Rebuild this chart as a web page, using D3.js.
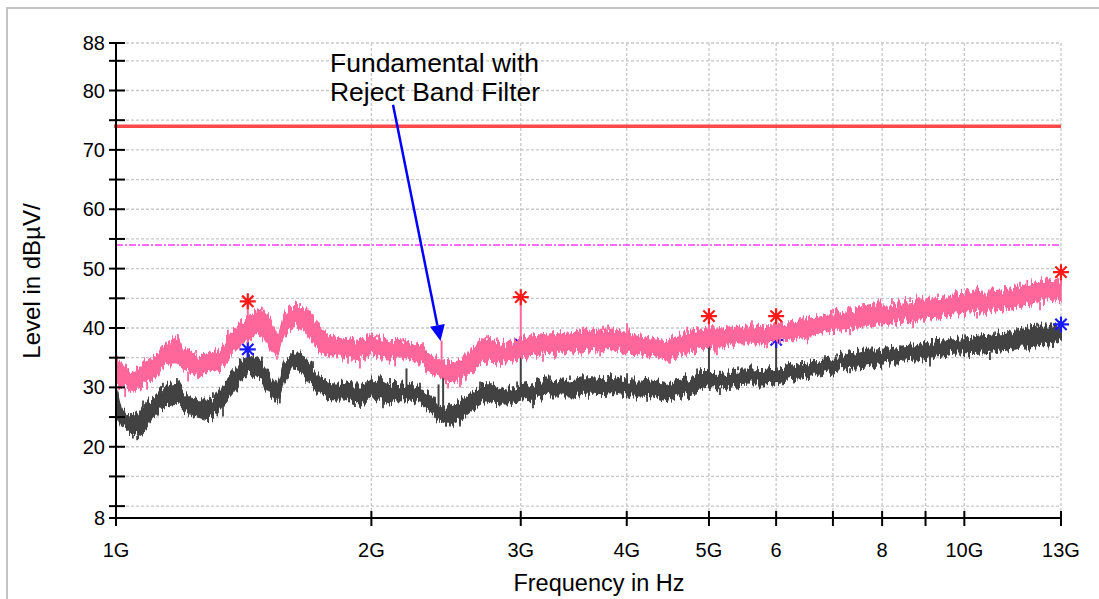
<!DOCTYPE html>
<html><head><meta charset="utf-8">
<script src="https://cdn.jsdelivr.net/npm/d3@7"></script>
<style>html,body{margin:0;padding:0;background:#fff;}svg{display:block;font-family:"Liberation Sans",Arial,sans-serif;}</style>
</head><body>
<svg id="c" width="1099" height="599"></svg>
<script>
// ---------- data ----------
const freqGHz = [1.000,1.015,1.03,1.045,1.06,1.08,1.10,1.12,1.14,1.16,1.18,1.20,1.22,1.25,1.28,1.31,1.34,1.37,1.40,1.43,
1.46,1.49,1.52,1.55,1.58,1.61,1.64,1.67,1.70,1.74,1.78,1.82,1.86,1.90,1.95,2.00,2.05,2.10,2.15,2.20,
2.25,2.30,2.35,2.40,2.45,2.50,2.55,2.60,2.66,2.72,2.78,2.85,2.92,3.00,3.08,3.16,3.25,3.35,3.45,3.55,
3.65,3.75,3.85,4.00,4.15,4.30,4.45,4.60,4.75,4.90,5.05,5.20,5.40,5.60,5.80,6.00,6.25,6.50,6.75,7.00,
7.30,7.60,7.90,8.20,8.50,8.80,9.10,9.40,9.70,10.0,10.4,10.8,11.2,11.6,12.0,12.4,12.8,13.0];
const peakHi = [35.2,34.0,33.0,32.2,32.8,34.0,35.0,35.8,37.0,37.8,38.4,36.4,36.0,35.6,35.4,35.8,37.2,39.4,40.8,41.8,
42.6,43.0,41.4,38.6,42.4,43.4,43.8,43.4,42.2,40.0,38.8,38.4,38.0,38.2,38.0,38.8,38.2,37.8,37.9,37.6,
37.2,36.8,35.6,34.6,34.0,34.0,34.4,35.6,37.2,38.4,38.0,37.6,37.4,38.4,38.6,38.8,39.0,39.0,39.2,39.6,
39.6,39.6,39.8,39.2,38.6,38.2,37.8,38.6,39.4,39.8,40.0,39.8,40.3,40.3,40.2,40.6,40.9,41.4,42.0,42.5,
42.9,43.5,44.0,44.0,44.2,44.6,45.0,45.3,45.7,45.8,46.3,46.4,46.6,46.9,47.4,47.8,48.0,47.8];
const peakLo = [30.5,30.0,29.8,29.2,29.6,30.6,31.5,32.4,33.4,34.0,34.0,33.0,32.6,32.4,32.3,32.9,34.0,35.6,37.0,38.0,
39.0,38.6,36.6,35.2,38.8,40.0,40.2,39.6,37.8,36.2,35.4,35.2,35.0,34.8,35.0,35.6,35.0,34.8,35.0,34.8,
34.4,33.6,32.6,32.0,30.8,30.6,31.2,32.0,33.4,34.4,34.6,34.4,34.2,35.0,35.2,35.6,35.8,35.8,36.0,36.2,
36.4,36.4,36.4,35.8,35.7,35.4,34.8,35.2,36.0,36.4,36.8,36.9,37.4,37.3,37.4,37.8,38.0,38.5,39.1,39.6,
39.8,40.2,40.6,40.9,41.0,41.3,41.7,42.0,42.4,42.5,42.7,43.0,43.3,43.6,44.1,44.5,44.8,44.8];
const avgHi = [30.5,26.5,25.4,25.6,25.4,27.0,28.0,29.0,30.2,30.7,30.8,29.2,28.2,27.9,27.8,28.4,30.6,32.2,34.0,35.6,
35.0,34.0,32.0,30.2,34.4,35.6,35.6,35.0,33.6,31.6,30.8,30.7,30.6,30.2,30.2,31.2,31.4,30.6,30.6,30.4,
30.0,29.6,28.6,26.8,26.6,27.0,27.6,28.5,29.6,30.4,30.4,29.8,29.6,30.2,30.6,31.2,31.2,31.0,31.3,31.6,
31.6,31.4,31.6,31.2,31.2,31.0,30.6,31.2,31.8,32.3,32.3,32.4,32.9,32.9,33.0,33.2,33.5,34.0,34.6,35.0,
35.7,36.2,36.3,36.5,36.8,37.0,37.6,38.0,38.0,38.2,38.6,38.8,39.1,39.6,40.2,40.3,40.3,40.4];
const avgLo = [25.5,23.4,22.8,22.0,21.8,22.6,24.6,25.8,26.8,27.2,27.4,26.2,25.4,25.0,24.6,25.4,27.2,28.9,30.8,32.6,
31.8,30.8,29.0,27.6,31.2,33.0,32.8,32.2,30.4,28.8,28.0,27.9,27.9,27.4,26.9,28.3,28.0,27.4,27.8,27.8,
27.6,27.3,26.0,24.4,24.0,24.0,24.6,25.6,26.8,27.6,27.4,27.2,27.3,27.9,28.0,28.4,28.6,28.6,28.6,28.9,
28.9,28.8,29.0,28.6,28.6,28.4,27.8,28.4,29.0,29.5,30.0,30.0,30.5,30.6,30.6,30.8,31.2,31.8,32.3,32.8,
33.2,33.4,33.8,34.2,34.5,34.7,35.0,35.3,35.6,35.7,35.8,36.0,36.3,36.8,36.9,37.2,37.5,38.0];

// isolated noise spikes on the trace edges
const peakUpF = [1.003,1.158,1.183,1.243,1.355,1.486,1.648,1.740,1.788,2.009,2.03,2.180,2.301,2.737,2.812,3.275,3.552,3.751,
3.802,4.003,4.712,4.841,5.619,6.403,7.002,7.333,7.597,8.217,8.630,9.311,10.07,10.35,11.63,11.86,12.52];
const peakUpV = [35.3,37.7,39.0,36.3,39.7,43.6,44.2,39.4,38.8,38.8,38.9,38.3,37.6,38.8,38.4,39.6,40.2,40.4,
40.6,40.8,40.2,40.3,41.3,41.8,43.2,43.6,44.2,45.0,45.2,45.8,46.7,47.0,47.8,48.1,48.6];
const peakDnF = [1.025,1.088,1.216,1.548,1.877,1.939,2.133,2.463,2.544,3.187,3.721,4.498,5.110,5.853,7.333,8.700,10.35,12.28];
const peakDnV = [28.4,29.6,31.0,34.7,34.0,33.2,33.5,29.8,30.0,34.3,35.2,34.0,35.4,36.6,38.8,40.0,41.6,43.0];
const avgUpF = [1.076,1.136,1.180,1.301,1.486,1.617,1.707,1.897,2.104,2.282,2.686,2.970,3.248,3.429,3.802,4.003,4.841,5.410,
6.438,6.851,7.079,7.785,8.399,9.162,10.02,10.87,11.57,12.18];
const avgUpV = [27.8,30.8,31.6,29.2,35.2,36.3,34.4,31.0,31.6,30.8,31.0,31.0,32.0,32.0,32.1,32.4,33.2,33.5,
34.6,35.4,35.7,36.9,37.1,38.3,38.9,39.4,40.0,40.9];
const avgDnF = [1.047,1.059,1.337,1.560,1.913,2.064,2.476,2.544,3.101,4.227,5.152,7.333,9.11,10.72];
const avgDnV = [21.4,21.1,25.1,27.3,26.7,26.5,23.4,23.4,26.5,27.6,28.7,32.4,33.5,34.6];

const peakSpikeF    = [1.43, 2.42, 3.0, 5.0, 6.0, 13.0];
const peakSpikeTop  = [44.5, 37.9, 45.2, 42.0, 42.0, 49.4];
const peakSpikeBase = [40.0, 31.5, 37.0, 38.0, 39.0, 47.0];
const avgSpikeF     = [1.43, 2.20, 2.40, 2.43, 3.0, 5.0, 6.0, 13.0];
const avgSpikeTop   = [36.2, 33.2, 30.5, 32.7, 37.4, 37.6, 37.9, 40.6];
const avgSpikeBase  = [33.0, 29.0, 25.0, 25.0, 29.0, 31.0, 32.0, 38.0];

const redMarkF  = [1.43, 3.0, 5.0, 6.0, 13.0];
const redMarkV  = [44.5, 45.2, 42.0, 42.0, 49.4];
const blueMarkF = [1.43, 3.0, 6.0, 13.0];
const blueMarkV = [36.4, 37.2, 38.0, 40.6];

const limitPeak = 74;
const limitAvg  = 54;

const yMajor = [88, 80, 70, 60, 50, 40, 30, 20, 8];
const yMinor = [85, 75, 65, 55, 45, 35, 25, 15, 10];
const xTicks = [1, 2, 3, 4, 5, 6, 7, 8, 9, 10, 13];
const xTickLabels = ["1G", "2G", "3G", "4G", "5G", "6", "", "8", "", "10G", "13G"];

const annotLines = ["Fundamental with", "Reject Band Filter"];
const arrowFrom = [2.121, 77.6];
const arrowTo   = [2.413, 37.8];

// ---------- drawing ----------
const svg = d3.select("#c");
const x = d3.scaleLog().domain([1, 13]).range([116, 1061]);
const y = d3.scaleLinear().domain([8, 88]).range([518, 43]);
const X0 = x.range()[0], X1 = x.range()[1], Y0 = y.range()[0], Y1 = y.range()[1];

// rendering texture for the dense spectrum traces (vertical-only edge roughness)
const defs = svg.append("defs");
function roughFilter(id, seed) {
  const f = defs.append("filter").attr("id", id).attr("filterUnits", "userSpaceOnUse")
    .attr("x", 100).attr("y", 30).attr("width", 1000).attr("height", 520)
    .attr("color-interpolation-filters", "sRGB");
  f.append("feTurbulence").attr("type", "fractalNoise").attr("baseFrequency", "0.42 0.012")
    .attr("numOctaves", 3).attr("seed", seed).attr("result", "n");
  const ct = f.append("feComponentTransfer").attr("in", "n").attr("result", "m");
  ct.append("feFuncR").attr("type", "linear").attr("slope", 0).attr("intercept", 0.5);
  ct.append("feFuncA").attr("type", "linear").attr("slope", 0).attr("intercept", 1);
  f.append("feDisplacementMap").attr("in", "SourceGraphic").attr("in2", "m").attr("scale", 18)
    .attr("xChannelSelector", "R").attr("yChannelSelector", "G");
}
roughFilter("roughA", 4);
roughFilter("roughB", 9);

// frame
svg.append("rect").attr("x", 7).attr("y", 8).attr("width", 1100).attr("height", 600)
  .attr("fill", "#fff").attr("stroke", "#c4c4c4").attr("stroke-width", 2);

// grid
const grid = svg.append("g").attr("stroke", "#c8c8c8").attr("stroke-width", 1.3).attr("stroke-dasharray", "3,2");
yMajor.concat(yMinor).filter(v => v !== 8).forEach(v => {
  grid.append("line").attr("x1", X0).attr("x2", X1).attr("y1", y(v)).attr("y2", y(v));
});
xTicks.filter(f => f !== 1).forEach(f => {
  grid.append("line").attr("x1", x(f)).attr("x2", x(f)).attr("y1", Y1).attr("y2", Y0);
});

// limit lines
svg.append("line").attr("x1", X0 - 2).attr("x2", X1).attr("y1", y(limitPeak)).attr("y2", y(limitPeak))
  .attr("stroke", "#ff4848").attr("stroke-width", 3.5);
svg.append("line").attr("x1", X0).attr("x2", X1).attr("y1", y(limitAvg)).attr("y2", y(limitAvg))
  .attr("stroke", "#ff3dff").attr("stroke-width", 1.5).attr("stroke-dasharray", "7,2,2,2");

// traces
const rows = (hi, lo) => freqGHz.map((f, i) => ({f, hi: hi[i], lo: lo[i]}));
const area = d3.area().x(d => x(d.f)).y0(d => y(d.lo)).y1(d => y(d.hi));
const avgColor = "#424242", peakColor = "#ff6699";
const bis = d3.bisector(d => d).left;
function bandAt(arr, f) {
  let i = Math.max(1, Math.min(freqGHz.length - 1, bis(freqGHz, f)));
  const a = Math.log(freqGHz[i - 1]), b = Math.log(freqGHz[i]), t = (Math.log(f) - a) / (b - a);
  return arr[i - 1] + (arr[i] - arr[i - 1]) * t;
}
function edgeSpikes(g, F, V, edge) {
  F.forEach((f, i) => g.append("line").attr("x1", x(f)).attr("x2", x(f))
    .attr("y1", y(bandAt(edge, f))).attr("y2", y(V[i])));
}

function asterisk(g, cx, cy, color) {
  const r = 8, d = r * 0.7071;
  const p = `M${cx - r},${cy}L${cx + r},${cy}M${cx},${cy - r}L${cx},${cy + r}` +
            `M${cx - d},${cy - d}L${cx + d},${cy + d}M${cx - d},${cy + d}L${cx + d},${cy - d}`;
  g.append("path").attr("d", p).attr("stroke", color).attr("stroke-width", 2.2).attr("fill", "none");
}

// average (dark) trace
svg.append("path").datum(rows(avgHi, avgLo)).attr("d", area).attr("filter", "url(#roughA)")
  .attr("fill", avgColor).attr("stroke", avgColor).attr("stroke-width", 1.5);
const ae = svg.append("g").attr("stroke", avgColor).attr("stroke-width", 1.8);
edgeSpikes(ae, avgUpF, avgUpV, avgHi);
edgeSpikes(ae, avgDnF, avgDnV, avgLo);
const as = svg.append("g").attr("stroke", avgColor).attr("stroke-width", 2);
avgSpikeF.forEach((f, i) => as.append("line").attr("x1", x(f)).attr("x2", x(f))
  .attr("y1", y(avgSpikeBase[i])).attr("y2", y(avgSpikeTop[i])));

// blue markers (behind the peak trace)
const bm = svg.append("g");
blueMarkF.forEach((f, i) => asterisk(bm, x(f), y(blueMarkV[i]), "#1a1aff"));

// peak (pink) trace
svg.append("path").datum(rows(peakHi, peakLo)).attr("d", area).attr("filter", "url(#roughB)")
  .attr("fill", peakColor).attr("stroke", peakColor).attr("stroke-width", 1.5);
const pe = svg.append("g").attr("stroke", peakColor).attr("stroke-width", 1.8);
edgeSpikes(pe, peakUpF, peakUpV, peakHi);
edgeSpikes(pe, peakDnF, peakDnV, peakLo);
const ps = svg.append("g").attr("stroke", peakColor).attr("stroke-width", 2);
peakSpikeF.forEach((f, i) => ps.append("line").attr("x1", x(f)).attr("x2", x(f))
  .attr("y1", y(peakSpikeBase[i])).attr("y2", y(peakSpikeTop[i])));

// red markers
const rm = svg.append("g");
redMarkF.forEach((f, i) => asterisk(rm, x(f), y(redMarkV[i]), "#ff1a1a"));

// axes
const ax = svg.append("g").attr("stroke", "#000").attr("stroke-width", 2);
ax.append("line").attr("x1", X0).attr("x2", X0).attr("y1", Y1).attr("y2", Y0 + 1);
ax.append("line").attr("x1", X0 - 1).attr("x2", X1 + 1).attr("y1", Y0).attr("y2", Y0);
yMajor.concat(yMinor).forEach(v => ax.append("line").attr("x1", X0 - 7).attr("x2", X0 + 9).attr("y1", y(v)).attr("y2", y(v)));
xTicks.forEach(f => ax.append("line").attr("x1", x(f)).attr("x2", x(f)).attr("y1", Y0 - 7).attr("y2", Y0 + 8));

const lab = svg.append("g").attr("fill", "#000").attr("font-size", 20);
yMajor.forEach(v => lab.append("text").attr("x", X0 - 11).attr("y", y(v) + 7).attr("text-anchor", "end").text(v));
xTicks.forEach((f, i) => lab.append("text").attr("x", x(f)).attr("y", 557).attr("text-anchor", "middle").text(xTickLabels[i]));

svg.append("text").attr("x", 599).attr("y", 591).attr("text-anchor", "middle").attr("font-size", 23.5).text("Frequency in Hz");
svg.append("text").attr("transform", "translate(40,281) rotate(-90)").attr("text-anchor", "middle")
  .attr("font-size", 24).text("Level in dBµV/");

// annotation
annotLines.forEach((t, i) => svg.append("text").attr("x", 330).attr("y", 72 + i * 28.5)
  .attr("font-size", 25).attr("textLength", i === 0 ? 209 : 210).attr("lengthAdjust", "spacingAndGlyphs").text(t));
const ax0 = x(arrowFrom[0]), ay0 = y(arrowFrom[1]), ax1 = x(arrowTo[0]), ay1 = y(arrowTo[1]);
const ang = Math.atan2(ay1 - ay0, ax1 - ax0), L = 16, W = 7.5;
const bx = ax1 - L * Math.cos(ang), by = ay1 - L * Math.sin(ang);
svg.append("line").attr("x1", ax0).attr("y1", ay0).attr("x2", bx).attr("y2", by)
  .attr("stroke", "#0000ff").attr("stroke-width", 2.5);
svg.append("path").attr("d", `M${ax1},${ay1}L${bx - W * Math.sin(ang)},${by + W * Math.cos(ang)}L${bx + W * Math.sin(ang)},${by - W * Math.cos(ang)}Z`)
  .attr("fill", "#0000ff");
</script>
</body></html>
